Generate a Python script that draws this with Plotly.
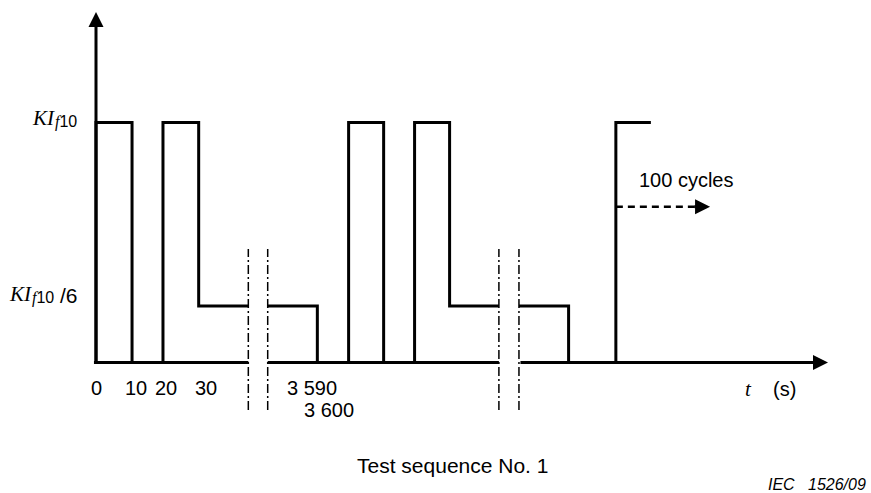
import plotly.graph_objects as go

# ---- data (schematic drawing units; the time axis is broken twice) ----
HIGH = 1.0      # K*I_f10
LOW = 0.235     # K*I_f10 / 6 (as drawn)

cycle1_t = [0, 0, 10.6, 10.6, 19.7, 19.7, 30.2, 30.2, 44.8]
cycle1_y = [0, HIGH, HIGH, 0, 0, HIGH, HIGH, LOW, LOW]
tail1_t = [50.5, 65.1, 65.1]
tail1_y = [LOW, LOW, 0]
cycle2_t = [74.3, 74.3, 84.6, 84.6, 93.7, 93.7, 104.0, 104.0, 118.5]
cycle2_y = [0, HIGH, HIGH, 0, 0, HIGH, HIGH, LOW, LOW]
tail2_t = [124.4, 139.0, 139.0]
tail2_y = [LOW, LOW, 0]
cycle3_t = [152.9, 152.9, 163.2]
cycle3_y = [0, HIGH, HIGH]

breaks_t = [(44.8, 50.5), (118.5, 124.4)]
axis_end_t = 215.3
yaxis_top = 1.46
repeat_level = 0.649
repeat_end_t = 180.6

tick_pos = [0, 10.6, 19.7, 30.2, 65.1, 74.3]
tick_labels = ["0", "10", "20", "30", "3 590", "3 600"]

# ---- styles ----
SANS = "Liberation Sans"
SERIF = "Liberation Serif"
LW = 3
tick_xshift = [0, 4, 3, 7, -5, -20]
tick_yshift = [-25, -25, -25, -25, -25, -47]
PX = 3.4  # drawing units per pixel along x

fig = go.Figure()

def line(xs, ys, width=LW, dash=None):
    fig.add_trace(go.Scatter(x=xs, y=ys, mode="lines",
                             line=dict(color="black", width=width, dash=dash),
                             hoverinfo="skip", showlegend=False))

# waveform
for xs, ys in [(cycle1_t, cycle1_y), (tail1_t, tail1_y), (cycle2_t, cycle2_y),
               (tail2_t, tail2_y), (cycle3_t, cycle3_y)]:
    line(xs, ys)

# x axis pieces (broken at the break marks)
line([-0.6, breaks_t[0][0]], [0, 0])
line([breaks_t[0][1], breaks_t[1][0]], [0, 0])

# break marks (dash-dot)
for a, b in breaks_t:
    for xb in (a, b):
        line([xb, xb], [-0.198, 0.473], width=1.5, dash="9px,3px,2px,3px")

# dashed repeat arrow shaft
line([cycle3_t[0], repeat_end_t - 4.4], [repeat_level, repeat_level], width=2.5, dash="7px,5px")

arrow_common = dict(text="", showarrow=True, arrowhead=2, arrowsize=1,
                    arrowwidth=LW, arrowcolor="black", standoff=0,
                    xref="x", yref="y", axref="x", ayref="y")
fig.add_annotation(x=axis_end_t, y=0, ax=breaks_t[1][1], ay=0, **arrow_common)
fig.add_annotation(x=0, y=yaxis_top, ax=0, ay=-0.006, **arrow_common)
fig.add_annotation(x=repeat_end_t, y=repeat_level, ax=repeat_end_t - 5, ay=repeat_level,
                   **arrow_common)

# tick labels
for p, lab, dx, dy in zip(tick_pos, tick_labels, tick_xshift, tick_yshift):
    fig.add_annotation(x=p, y=0, text=lab, showarrow=False, xanchor="center",
                       yanchor="middle", xshift=dx, yshift=dy,
                       font=dict(family=SANS, size=20, color="black"))

# y level labels, built from parts: K I (serif italic) + f (serif italic) 10 + optional /6
def level_label(level, ki_end_px, dy, suffix=None, suffix_px=None):
    xk = (ki_end_px - 96) / PX
    fig.add_annotation(x=xk, y=level, text="<i>KI</i>", showarrow=False,
                       xanchor="right", yanchor="middle", yshift=dy + 4,
                       font=dict(family=SERIF, size=21, color="black"))
    fig.add_annotation(x=xk, y=level,
                       text="<span style=\"font-family:'Liberation Serif'\"><i>f</i></span>10",
                       showarrow=False, xanchor="left", yanchor="middle", yshift=dy,
                       xshift=-4, font=dict(family=SANS, size=16, color="black"))
    if suffix:
        fig.add_annotation(x=(suffix_px - 96) / PX, y=level, text=suffix, showarrow=False,
                           xanchor="left", yanchor="middle", yshift=dy + 3,
                           font=dict(family=SANS, size=21, color="black"))

level_label(HIGH, 57, 1)
level_label(LOW, 34, 8, "/6", 58)

# axis title t (s)
fig.add_annotation(x=191.8, y=0, text="<i>t</i>", showarrow=False, yshift=-26,
                   font=dict(family=SERIF, size=21, color="black"))
fig.add_annotation(x=202.4, y=0, text="(s)", showarrow=False, yshift=-26,
                   font=dict(family=SANS, size=20, color="black"))

# repeat text
fig.add_annotation(x=cycle3_t[0] + 6.2, y=repeat_level, text="100 cycles", showarrow=False,
                   xanchor="left", yanchor="middle", yshift=27,
                   font=dict(family=SANS, size=20, color="black"))

# caption
fig.add_annotation(x=452.5 / 871, y=(493 - 465) / 493, xref="paper", yref="paper",
                   text="Test sequence No. 1", showarrow=False,
                   xanchor="center", yanchor="middle",
                   font=dict(family=SANS, size=21, color="black"))
fig.add_annotation(x=0.997, y=(493 - 484) / 493, xref="paper", yref="paper",
                   text="<i>IEC   1526/09</i>", showarrow=False,
                   xanchor="right", yanchor="middle",
                   font=dict(family=SANS, size=16, color="black"))

fig.update_layout(
    width=871, height=493,
    margin=dict(l=0, r=0, t=0, b=0),
    paper_bgcolor="white", plot_bgcolor="white",
    xaxis=dict(range=[-96 / PX, (871 - 96) / PX], visible=False, fixedrange=True),
    yaxis=dict(range=[(362.5 - 493) / 240, 362.5 / 240], visible=False, fixedrange=True),
    showlegend=False,
)

fig.write_html(
    "out.html",
    config={"displayModeBar": False, "staticPlot": True},
    post_script="document.body.style.margin='0';document.documentElement.style.margin='0';"
                "document.body.style.overflow='hidden';",
)
